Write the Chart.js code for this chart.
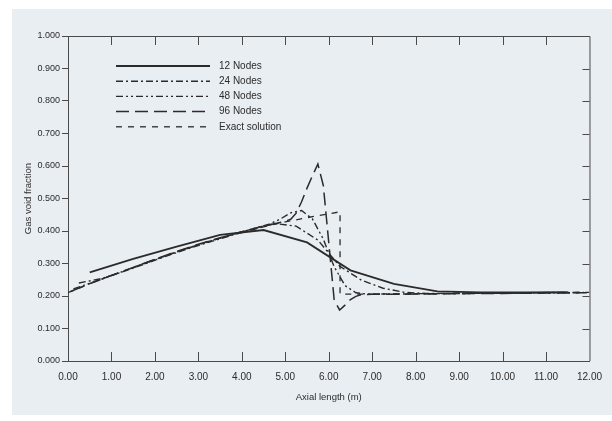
<!DOCTYPE html>
<html>
<head>
<meta charset="utf-8">
<script src="https://cdn.jsdelivr.net/npm/chart.js@4/dist/chart.umd.min.js"></script>
<style>
  html, body { margin: 0; padding: 0; background: #fff; }
  canvas { display: block; }
</style>
</head>
<body>
<canvas id="chart" width="612" height="421"></canvas>
<script>
// values
const seriesNames = ['12 Nodes', '24 Nodes', '48 Nodes', '96 Nodes', 'Exact solution'];

const xTickLabels = ['0.00', '1.00', '2.00', '3.00', '4.00', '5.00', '6.00', '7.00', '8.00', '9.00', '10.00', '11.00', '12.00'];
const yTickLabels = ['0.000', '0.100', '0.200', '0.300', '0.400', '0.500', '0.600', '0.700', '0.800', '0.900', '1.000'];

const nodes12X = [0.5, 1.5, 2.5, 3.5, 4.5, 5.5, 6.5, 7.5, 8.5, 9.5, 10.5, 11.5];
const nodes12Y = [0.273, 0.314, 0.352, 0.388, 0.403, 0.365, 0.279, 0.237, 0.214, 0.211, 0.211, 0.212];

const nodes24X = [0.25, 0.75, 1.25, 1.75, 2.25, 2.75, 3.25, 3.75, 4.25, 4.75, 5.25, 5.75,
                  6.25, 6.75, 7.25, 7.75, 8.25, 8.75, 9.25, 9.75, 10.25, 10.75, 11.25, 11.75];
const nodes24Y = [0.240, 0.253, 0.274, 0.298, 0.322, 0.345, 0.366, 0.386, 0.404, 0.423, 0.415, 0.372,
                  0.292, 0.249, 0.224, 0.211, 0.208, 0.208, 0.209, 0.209, 0.210, 0.210, 0.211, 0.211];

const nodes48X = [0.125, 0.625, 1.125, 1.625, 2.125, 2.625, 3.125, 3.625, 4.125, 4.625, 4.875, 5.125, 5.375,
                  5.625, 5.875, 6.125, 6.375, 6.625, 6.875, 7.375, 8.375, 9.375, 10.375, 11.375, 11.875];
const nodes48Y = [0.222, 0.245, 0.269, 0.293, 0.318, 0.341, 0.363, 0.383, 0.402, 0.421, 0.436, 0.456, 0.463,
                  0.437, 0.375, 0.290, 0.232, 0.210, 0.206, 0.206, 0.207, 0.208, 0.209, 0.210, 0.211];

const nodes96X = [0.06, 0.5, 1.0, 1.5, 2.0, 2.5, 3.0, 3.5, 4.0, 4.5, 5.0, 5.125, 5.25, 5.375, 5.5, 5.625,
                  5.75, 5.875, 6.0, 6.125, 6.25, 6.375, 6.5, 6.625, 6.75, 7.0, 8.0, 9.0, 10.0, 11.0, 11.94];
const nodes96Y = [0.214, 0.238, 0.263, 0.288, 0.313, 0.337, 0.359, 0.379, 0.398, 0.415, 0.430, 0.436, 0.455, 0.490, 0.532, 0.570,
                  0.606, 0.540, 0.365, 0.188, 0.157, 0.172, 0.189, 0.199, 0.204, 0.205, 0.206, 0.207, 0.208, 0.209, 0.210];

const exactX = [0, 0.5, 1, 1.5, 2, 2.5, 3, 3.5, 4, 4.5, 5, 5.5, 6, 6.26, 6.26, 7, 8, 9, 10, 11, 12];
const exactY = [0.210, 0.238, 0.263, 0.288, 0.312, 0.336, 0.358, 0.378, 0.397, 0.413, 0.428, 0.441, 0.453, 0.459,
                0.206, 0.206, 0.207, 0.208, 0.209, 0.210, 0.211];

const ink = '#2b2b2b';
const axisInk = '#4a4a4a';
const fontFamily = '"Liberation Sans", Arial, Helvetica, sans-serif';

function toPoints(xs, ys) {
    return xs.map((x, i) => ({ x, y: ys[i] }));
}

function makeSet(label, xs, ys, dash, width) {
    return {
        label,
        data: toPoints(xs, ys),
        borderColor: ink,
        borderWidth: width,
        borderDash: dash,
        pointRadius: 0,
        tension: 0,
        fill: false
    };
}

// scanned paper background
const paperPlugin = {
    id: 'paper',
    beforeDraw(chart) {
        const { ctx, width, height } = chart;
        ctx.save();
        ctx.fillStyle = '#ffffff';
        ctx.fillRect(0, 0, width, height);
        ctx.fillStyle = '#e9eef3';
        ctx.fillRect(12, 9, width - 12, height - 15);
        ctx.restore();
    }
};

// frame on top/right plus the inward tick marks
const framePlugin = {
    id: 'frame',
    afterDraw(chart) {
        const { ctx, chartArea: a, scales } = chart;
        ctx.save();
        ctx.strokeStyle = axisInk;
        ctx.lineWidth = 1;
        ctx.beginPath();
        ctx.moveTo(a.left, a.top + 0.5);
        ctx.lineTo(a.right + 0.5, a.top + 0.5);
        ctx.lineTo(a.right + 0.5, a.bottom);
        scales.x.ticks.forEach(t => {
            const px = Math.round(scales.x.getPixelForValue(t.value)) + 0.5;
            if (t.value <= 0 || t.value >= 12) return;
            ctx.moveTo(px, a.bottom);
            ctx.lineTo(px, a.bottom - 9);
            ctx.moveTo(px, a.top);
            ctx.lineTo(px, a.top + 9);
        });
        scales.y.ticks.forEach(t => {
            if (t.value <= 0 || t.value >= 1) return;
            const py = Math.round(scales.y.getPixelForValue(t.value)) + 0.5;
            ctx.moveTo(a.right, py);
            ctx.lineTo(a.right - 7, py);
        });
        ctx.stroke();
        ctx.restore();
    }
};

// legend drawn as long line samples like the printed figure
const legendPlugin = {
    id: 'lineLegend',
    afterDraw(chart) {
        const { ctx, chartArea: a } = chart;
        ctx.save();
        ctx.font = '10px ' + fontFamily;
        ctx.textBaseline = 'middle';
        ctx.fillStyle = ink;
        chart.data.datasets.forEach((ds, i) => {
            const y = a.top + 30 + i * 15.2;
            ctx.strokeStyle = ds.borderColor;
            ctx.lineWidth = ds.borderWidth;
            ctx.setLineDash(ds.borderDash);
            ctx.beginPath();
            ctx.moveTo(a.left + 48, y);
            ctx.lineTo(a.left + 142, y);
            ctx.stroke();
            ctx.fillText(ds.label, a.left + 151, y);
        });
        ctx.restore();
    }
};

new Chart(document.getElementById('chart'), {
    type: 'line',
    data: {
        datasets: [
            makeSet(seriesNames[0], nodes12X, nodes12Y, [], 1.8),
            makeSet(seriesNames[1], nodes24X, nodes24Y, [7, 3, 2, 3], 1.4),
            makeSet(seriesNames[2], nodes48X, nodes48Y, [7, 3, 2, 3, 2, 3], 1.4),
            makeSet(seriesNames[3], nodes96X, nodes96Y, [13, 6], 1.5),
            makeSet(seriesNames[4], exactX, exactY, [6, 6], 1.3)
        ]
    },
    options: {
        responsive: false,
        animation: false,
        devicePixelRatio: 1,
        layout: { padding: { left: 0, top: 36, right: 18, bottom: 0 } },
        plugins: {
            legend: { display: false },
            tooltip: { enabled: false }
        },
        scales: {
            x: {
                type: 'linear',
                min: 0,
                max: 12,
                afterFit: (scale) => { scale.height = 60; },
                ticks: {
                    stepSize: 1,
                    padding: 10,
                    color: ink,
                    font: { family: fontFamily, size: 10 },
                    maxRotation: 0,
                    callback: (v, i) => xTickLabels[i]
                },
                grid: { drawOnChartArea: false, drawTicks: false },
                border: { display: true, color: axisInk, width: 1 },
                title: {
                    display: true,
                    text: 'Axial length (m)',
                    color: ink,
                    font: { family: fontFamily, size: 9.5 },
                    padding: { top: 0, bottom: 18 }
                }
            },
            y: {
                min: 0,
                max: 1,
                afterFit: (scale) => { scale.width = 68; },
                ticks: {
                    stepSize: 0.1,
                    padding: 2,
                    color: ink,
                    font: { family: fontFamily, size: 9 },
                    callback: (v, i) => yTickLabels[i]
                },
                grid: { drawOnChartArea: false, drawTicks: true, tickLength: 6, color: axisInk },
                border: { display: true, color: axisInk, width: 1 },
                title: {
                    display: true,
                    text: 'Gas void fraction',
                    color: ink,
                    font: { family: fontFamily, size: 9.5 },
                    padding: { top: 23, bottom: 0 }
                }
            }
        }
    },
    plugins: [paperPlugin, framePlugin, legendPlugin]
});
</script>
</body>
</html>
